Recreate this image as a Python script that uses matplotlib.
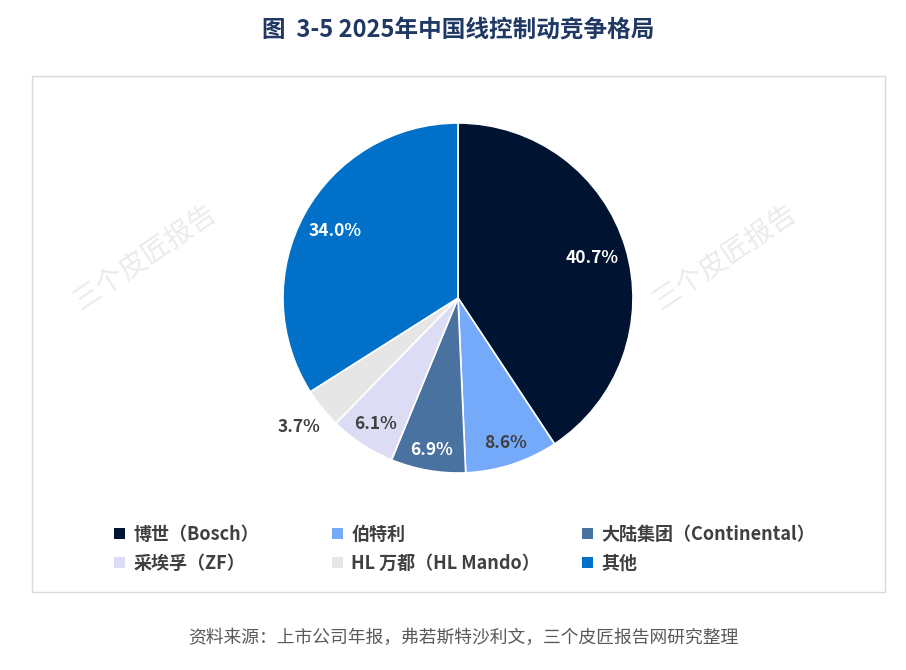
import numpy as np
import matplotlib.pyplot as plt
from matplotlib.patches import Rectangle

plt.rcParams['font.family'] = ['Noto Sans CJK SC', 'DejaVu Sans']

# Data
labels = ['博世（Bosch）', '伯特利', '大陆集团（Continental）',
          '采埃孚（ZF）', 'HL 万都（HL Mando）', '其他']
shares = [40.7, 8.6, 6.9, 6.1, 3.7, 34.0]
colors = ['#001432', '#75A9F9', '#4A72A0', '#DCDCF4', '#E6E6E6', '#0070C8']
label_colors = ['white', '#404040', 'white', '#404040', '#404040', 'white']
label_dist = [0.80, 0.87, 0.88, 0.86, 1.17, 0.80]

fig = plt.figure(figsize=(9.06, 6.70), dpi=100)
W, H = 906, 670

# frame
fig.patches.append(Rectangle((32 / W, 1 - 592 / H), (885 - 32) / W, (592 - 76) / H,
                             transform=fig.transFigure, fill=False,
                             edgecolor='#D9D9D9', linewidth=1.0))

# watermarks
for x in (145, 725):
    fig.text(x / W, 1 - 258 / H, '三个皮匠报告', fontsize=20, color='#EBEBEB',
             rotation=34, ha='center', va='center', fontweight='light')

# pie: radius 175px centered at (458, 298)
r = 175
ax = fig.add_axes([(458 - r) / W, 1 - (298 + r) / H, 2 * r / W, 2 * r / H])
wedges, _ = ax.pie(shares, colors=colors, startangle=90, counterclock=False,
                   radius=1.0, wedgeprops=dict(edgecolor='white', linewidth=1.2))
ax.set_xlim(-1, 1)
ax.set_ylim(-1, 1)
ax.set_aspect('equal')
ax.axis('off')

for w, v, c, d in zip(wedges, shares, label_colors, label_dist):
    ang = np.deg2rad((w.theta1 + w.theta2) / 2)
    ax.text(d * np.cos(ang), d * np.sin(ang), f'{v:.1f}%', ha='center', va='center',
            fontsize=12.5, fontweight='bold', color=c, clip_on=False)

# legend: three columns at fixed positions
handles = [Rectangle((0, 0), 1, 1, facecolor=c, edgecolor='none') for c in colors]
col_x = [100, 318, 568]
for k, x in enumerate(col_x):
    idx = [k, k + 3]
    leg = fig.legend([handles[i] for i in idx], [labels[i] for i in idx],
                     ncol=1, loc='center left', bbox_to_anchor=(x / W, 1 - 549 / H),
                     frameon=False, handlelength=0.6, handleheight=0.6,
                     handletextpad=0.45, labelspacing=0.55, borderpad=0.3,
                     prop={'size': 13, 'weight': 'bold'})
    for t in leg.get_texts():
        t.set_color('#404040')

# title and source
fig.text(458 / W, 1 - 30 / H, '图  3-5 2025年中国线控制动竞争格局', ha='center', va='center',
         fontsize=17, fontweight='bold', color='#1F3864')
fig.text(463 / W, 1 - 638 / H, '资料来源：上市公司年报，弗若斯特沙利文，三个皮匠报告网研究整理',
         ha='center', va='center', fontsize=12.8, color='#595959')

fig.savefig('out.png', dpi=100, facecolor='white')
